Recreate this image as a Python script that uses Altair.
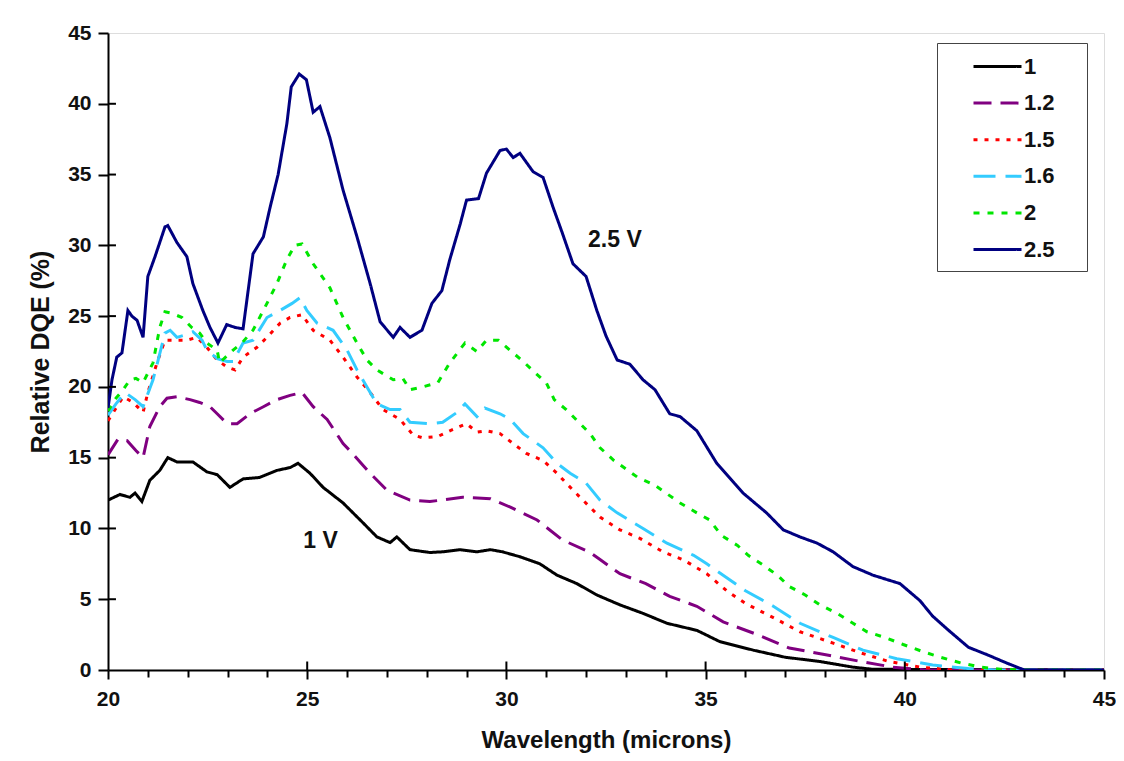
import altair as alt
import pandas as pd

# ---- data ----
series_names = ["1", "1.2", "1.5", "1.6", "2", "2.5"]
series_colors = ["#000000", "#800080", "#FF0000", "#33CCFF", "#00E600", "#000080"]
series_dashes = [[1, 0], [18, 9], [4, 7], [22, 10], [6, 8], [1, 0]]

x_1 = [20.0, 20.3, 20.55, 20.68, 20.85, 21.05, 21.3, 21.5, 21.73, 22.13, 22.48, 22.74, 23.06, 23.39, 23.8,
       24.24, 24.57, 24.77, 25.07, 25.4, 25.9, 26.4, 26.75, 27.08, 27.25, 27.58, 28.08, 28.4, 28.84, 29.26,
       29.6, 29.9, 30.34, 30.84, 31.27, 31.77, 32.27, 32.85, 33.43, 34.03, 34.78, 35.36, 36.2, 37.0, 37.87,
       38.7, 39.2, 45.0]
y_1 = [12.0, 12.4, 12.2, 12.5, 11.9, 13.4, 14.1, 15.0, 14.7, 14.7, 14.0, 13.8, 12.9, 13.5, 13.6,
       14.1, 14.3, 14.6, 13.9, 12.9, 11.8, 10.4, 9.4, 9.0, 9.4, 8.5, 8.3, 8.35, 8.5, 8.35,
       8.5, 8.35, 8.0, 7.5, 6.7, 6.1, 5.3, 4.6, 4.0, 3.3, 2.8, 2.0, 1.4, 0.9, 0.6,
       0.2, 0.05, 0.0]

x_12 = [20.0, 20.25, 20.48, 20.7, 20.88, 21.05, 21.3, 21.48, 21.73, 22.06, 22.3, 22.56, 22.74, 22.99, 23.24,
        23.56, 23.9, 24.24, 24.57, 24.87, 25.15, 25.5, 25.9, 26.07, 26.58, 27.0, 27.58, 28.08, 28.9, 29.6,
        30.1, 30.77, 31.4, 32.1, 32.35, 32.85, 33.5, 34.1, 34.78, 35.44, 36.3, 37.1, 38.05, 38.9, 39.7,
        40.5, 45.0]
y_12 = [15.2, 16.3, 16.2, 15.5, 15.0, 17.2, 18.6, 19.2, 19.3, 19.1, 18.9, 18.6, 18.1, 17.4, 17.4,
        18.1, 18.6, 19.1, 19.4, 19.6, 18.6, 17.7, 16.0, 15.5, 13.9, 12.7, 12.0, 11.9, 12.2, 12.1,
        11.5, 10.6, 9.2, 8.3, 7.8, 6.8, 6.1, 5.2, 4.5, 3.4, 2.5, 1.55, 1.06, 0.6, 0.2,
        0.0, 0.0]

x_15 = [20.0, 20.2, 20.38, 20.63, 20.88, 21.0, 21.23, 21.43, 21.73, 21.98, 22.23, 22.48, 22.74, 22.99, 23.19,
        23.39, 23.74, 23.99, 24.32, 24.57, 24.87, 25.15, 25.57, 25.9, 26.25, 26.58, 26.9, 27.33, 27.66, 27.9,
        28.28, 28.58, 29.0, 29.26, 29.5, 29.84, 30.17, 30.5, 30.92, 31.27, 31.5, 31.85, 32.35, 32.85, 33.35,
        33.93, 34.43, 35.03, 35.53, 36.0, 36.7, 37.37, 38.2, 38.9, 39.6, 40.4, 41.2, 45.0]
y_15 = [17.6, 18.5, 19.3, 18.9, 18.2, 19.6, 21.7, 23.3, 23.3, 23.3, 23.5, 22.8, 21.9, 21.4, 21.2,
        22.1, 22.8, 23.5, 24.5, 24.9, 25.1, 24.0, 23.3, 22.1, 20.7, 19.6, 18.4, 17.7, 16.6, 16.4,
        16.5, 16.9, 17.4, 16.8, 16.9, 16.7, 16.0, 15.3, 14.8, 13.9, 13.2, 12.2, 10.8, 9.9, 9.3,
        8.35, 7.8, 6.8, 5.6, 4.7, 3.7, 2.7, 1.9, 1.2, 0.6, 0.2, 0.0, 0.0]

x_16 = [20.0, 20.2, 20.43, 20.68, 20.88, 21.13, 21.26, 21.43, 21.56, 21.73, 21.98, 22.13, 22.36, 22.48, 22.74,
        22.99, 23.14, 23.39, 23.64, 23.99, 24.32, 24.62, 24.82, 24.99, 25.25, 25.65, 26.0, 26.25, 26.5, 26.75,
        27.08, 27.33, 27.58, 28.08, 28.4, 28.76, 28.96, 29.26, 29.46, 29.84, 30.1, 30.42, 30.67, 30.92, 31.27,
        31.6, 32.0, 32.35, 32.78, 33.43, 34.03, 34.7, 35.03, 35.44, 36.0, 36.7, 37.37, 38.2, 38.95, 39.8,
        40.7, 41.6, 42.3, 45.0]
y_16 = [18.0, 18.8, 19.6, 19.1, 18.6, 20.5, 21.9, 23.8, 24.0, 23.5, 23.7, 23.9, 23.3, 22.6, 22.0,
        21.8, 21.8, 23.1, 23.3, 24.9, 25.4, 25.9, 26.3, 25.4, 24.5, 24.0, 22.6, 21.2, 20.0, 18.8,
        18.4, 18.4, 17.5, 17.4, 17.5, 18.2, 18.8, 17.9, 18.5, 18.1, 17.7, 16.7, 16.2, 15.7, 14.6,
        13.9, 13.2, 12.0, 11.1, 10.0, 8.96, 8.1, 7.5, 6.7, 5.6, 4.5, 3.3, 2.3, 1.4, 0.8,
        0.35, 0.1, 0.0, 0.0]

x_2 = [20.0, 20.2, 20.38, 20.55, 20.7, 20.88, 21.13, 21.3, 21.43, 21.6, 21.86, 22.1, 22.3, 22.48, 22.74,
       22.8, 23.14, 23.36, 23.64, 23.99, 24.24, 24.49, 24.69, 24.87, 25.15, 25.57, 25.9, 26.25, 26.5, 26.75,
       27.16, 27.4, 27.58, 27.9, 28.28, 28.58, 28.96, 29.26, 29.5, 29.8, 30.17, 30.42, 30.72, 31.0, 31.2,
       31.5, 31.85, 32.1, 32.35, 32.7, 33.3, 33.7, 34.36, 34.78, 35.1, 35.4, 35.8, 36.07, 36.45, 36.8,
       37.1, 37.5, 37.87, 38.3, 38.7, 39.05, 39.55, 39.96, 40.45, 40.9, 41.4, 41.9, 42.4, 43.0, 45.0]
y_2 = [18.3, 19.2, 19.8, 20.5, 20.6, 20.3, 21.7, 24.2, 25.3, 25.2, 24.9, 24.2, 23.8, 23.1, 22.6,
       21.7, 22.6, 23.1, 24.0, 25.9, 27.3, 29.0, 30.0, 30.1, 28.7, 27.0, 24.9, 23.1, 21.9, 21.2,
       20.5, 20.6, 19.8, 20.0, 20.3, 21.7, 23.1, 22.5, 23.3, 23.3, 22.4, 21.8, 21.0, 20.3, 19.1,
       18.4, 17.4, 16.7, 15.7, 14.8, 13.6, 13.1, 11.8, 11.1, 10.6, 9.5, 8.8, 8.1, 7.4, 6.7,
       5.9, 5.3, 4.6, 4.0, 3.3, 2.7, 2.25, 1.8, 1.3, 0.9, 0.5, 0.2, 0.05, 0.0, 0.0]

x_25 = [20.0, 20.1, 20.22, 20.35, 20.5, 20.6, 20.73, 20.88, 21.0, 21.18, 21.43, 21.5, 21.73, 21.98, 22.13,
        22.38, 22.56, 22.76, 22.98, 23.19, 23.39, 23.64, 23.9, 24.07, 24.27, 24.49, 24.6, 24.8, 24.98, 25.15,
        25.32, 25.57, 25.9, 26.25, 26.58, 26.83, 27.16, 27.33, 27.58, 27.88, 28.13, 28.38, 28.58, 28.84, 29.0,
        29.3, 29.5, 29.84, 30.0, 30.17, 30.34, 30.67, 30.92, 31.17, 31.4, 31.67, 32.0, 32.27, 32.5, 32.78,
        33.1, 33.43, 33.73, 34.1, 34.36, 34.78, 35.28, 35.94, 36.53, 36.95, 37.37, 37.8, 38.2, 38.7, 39.2,
        39.88, 40.38, 40.7, 41.1, 41.6, 42.05, 42.55, 43.0, 44.0, 45.0]
y_25 = [18.5, 20.5, 22.1, 22.4, 25.4, 25.0, 24.7, 23.5, 27.8, 29.2, 31.3, 31.4, 30.2, 29.2, 27.3,
        25.4, 24.2, 23.1, 24.4, 24.2, 24.1, 29.4, 30.6, 32.7, 35.0, 38.6, 41.2, 42.1, 41.7, 39.4,
        39.8, 37.6, 33.9, 30.6, 27.3, 24.6, 23.5, 24.2, 23.5, 24.0, 25.9, 26.8, 29.0, 31.5, 33.2,
        33.3, 35.1, 36.7, 36.8, 36.2, 36.5, 35.2, 34.8, 32.7, 30.9, 28.7, 27.8, 25.4, 23.6, 21.9,
        21.6, 20.5, 19.8, 18.1, 17.9, 16.9, 14.6, 12.5, 11.1, 9.9, 9.4, 8.96, 8.35, 7.3, 6.7,
        6.1, 4.9, 3.8, 2.8, 1.6, 1.1, 0.5, 0.0, 0.0, 0.0]

annot_x = [32.05, 24.9]
annot_y = [30.4, 9.1]
annot_text = ["2.5 V", "1 V"]

x_ticks_major = [25, 30, 35, 40]
y_ticks_major = [5, 10, 15, 20, 25, 30, 35, 40]

# ---- build tables ----
all_x = [x_1, x_12, x_15, x_16, x_2, x_25]
all_y = [y_1, y_12, y_15, y_16, y_2, y_25]
rows = []
for name, xs, ys in zip(series_names, all_x, all_y):
    for i, (a, b) in enumerate(zip(xs, ys)):
        rows.append({"series": name, "wl": a, "dqe": b, "order": i})
df = pd.DataFrame(rows)

FONT = "Liberation Sans"
TXT = "#111111"

xscale = alt.Scale(domain=[20, 45], nice=False, zero=False)
yscale = alt.Scale(domain=[0, 45], nice=False)

x_axis = alt.Axis(title="Wavelength (microns)", values=list(range(20, 46)),
                  labelExpr="datum.value % 5 === 0 ? datum.label : ''",
                  tickSize={"condition": {"test": "datum.value % 5 === 0", "value": 9}, "value": 7},
                  tickWidth=2, tickColor="black", domainColor="black", domainWidth=2,
                  labelFont=FONT, labelFontSize=21, labelFontWeight="bold", labelColor=TXT,
                  labelPadding=9, labelOverlap=False, labelFlush=False, grid=False,
                  titleFont=FONT, titleFontSize=24, titleFontWeight="bold", titleColor=TXT,
                  titlePadding=19)
y_axis = alt.Axis(title="Relative DQE (%)", values=list(range(0, 46, 5)),
                  tickSize=10, tickWidth=2, tickColor="black", domainColor="black", domainWidth=2,
                  labelFont=FONT, labelFontSize=21, labelFontWeight="bold", labelColor=TXT,
                  labelPadding=7, labelOverlap=False, grid=False,
                  titleFont=FONT, titleFontSize=25, titleFontWeight="bold", titleColor=TXT,
                  titlePadding=14)

lines = alt.Chart(df).mark_line(strokeWidth=3, clip=True).encode(
    x=alt.X("wl:Q", scale=xscale, axis=x_axis),
    y=alt.Y("dqe:Q", scale=yscale, axis=y_axis),
    color=alt.Color("series:N", scale=alt.Scale(domain=series_names, range=series_colors),
                    legend=alt.Legend(title=None, orient="none", legendX=829, legendY=10,
                                      symbolType="M-2,0H2", symbolSize=576, symbolStrokeWidth=3,
                                      labelFont=FONT, labelFontSize=22, labelFontWeight="bold",
                                      labelColor=TXT, labelOffset=13, rowPadding=11.6,
                                      labelExpr="datum.label + '\u00a0\u2800'",
                                      padding=10, strokeColor="#444", fillColor="white",
                                      symbolOffset=37)),
    strokeDash=alt.StrokeDash("series:N", scale=alt.Scale(domain=series_names, range=series_dashes)),
    order="order:Q",
)

xt = pd.DataFrame({"wl": x_ticks_major, "y0": [0] * 4, "y1": [0.6] * 4})
xtick_in = alt.Chart(xt).mark_rule(color="black", strokeWidth=2).encode(
    x=alt.X("wl:Q", scale=xscale, axis=x_axis), y=alt.Y("y0:Q", scale=yscale, axis=y_axis), y2="y1:Q")

yt = pd.DataFrame({"dqe": y_ticks_major, "x0": [20] * 8, "x1": [20.2] * 8})
ytick_in = alt.Chart(yt).mark_rule(color="black", strokeWidth=2).encode(
    y=alt.Y("dqe:Q", scale=yscale, axis=y_axis), x=alt.X("x0:Q", scale=xscale, axis=x_axis), x2="x1:Q")

ann = pd.DataFrame({"wl": annot_x, "dqe": annot_y, "text": annot_text})
labels = alt.Chart(ann).mark_text(align="left", baseline="middle", font=FONT, fontSize=23,
                                  fontWeight="bold", color=TXT).encode(
    x=alt.X("wl:Q", scale=xscale, axis=x_axis), y=alt.Y("dqe:Q", scale=yscale, axis=y_axis),
    text="text:N")

chart = alt.layer(lines, xtick_in, ytick_in, labels).properties(
    width=996, height=637,
    autosize=alt.AutoSizeParams(type="none"),
    padding={"left": 100, "top": 25, "right": 12, "bottom": 100},
).configure_view(stroke="black", strokeWidth=2).configure_axis(
    labelOverlap=False
).configure(background="white")

chart.save("out.html", embed_options={"renderer": "svg", "actions": False})
